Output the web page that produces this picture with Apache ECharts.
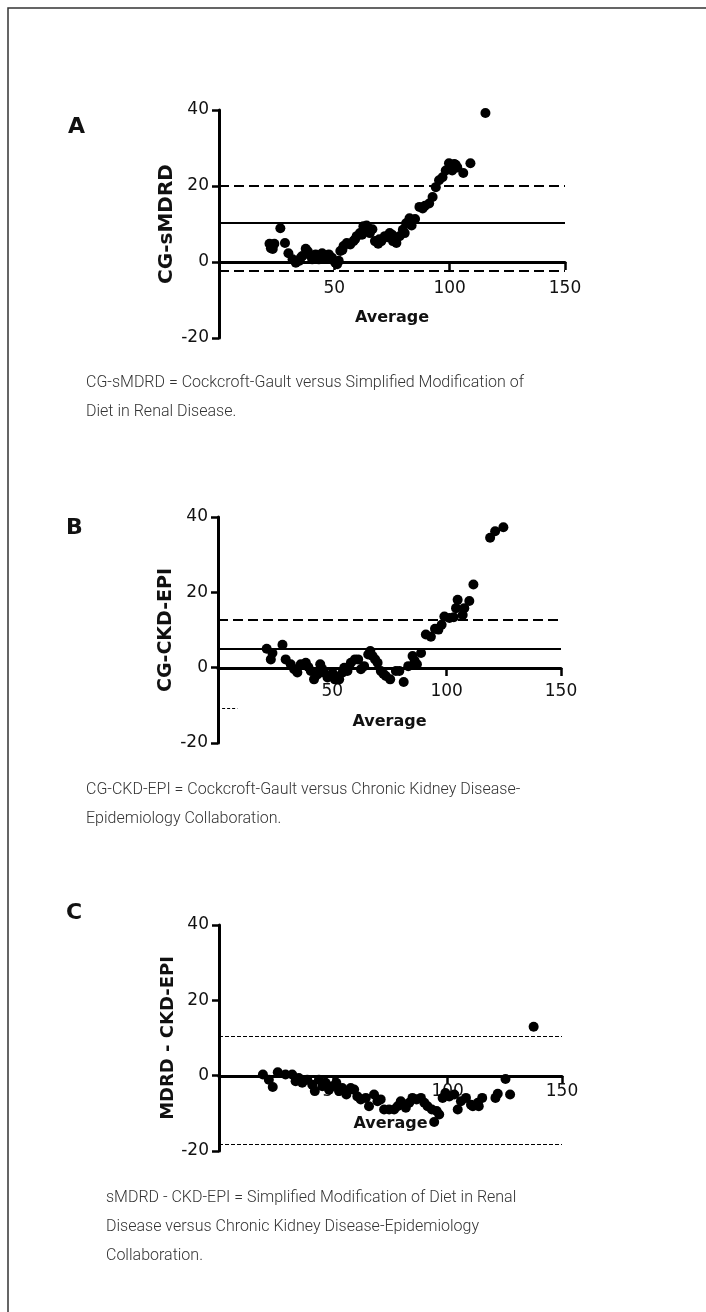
<!DOCTYPE html>
<html>
<head>
<meta charset="utf-8">
<script src="https://cdn.jsdelivr.net/npm/echarts@6/dist/echarts.min.js"></script>
<style>
  html, body { margin: 0; padding: 0; background: #fff; }
  #main { width: 706px; height: 1312px; }
</style>
</head>
<body>
<div id="main"></div>
<script>
// Bland-Altman style plots: average on x, difference on y
var pointsA = [
  [21.9, 4.8], [22.5, 3.6], [23.3, 3.4], [24, 4.8], [26.6, 8.9], [28.6, 5], [30.1, 2.3],
  [31.9, 0.7], [33.3, -0.2], [34.7, 0.3], [35.5, 1.2], [36.1, 1.6], [37.6, 3.5], [38.5, 2.8],
  [39, 2], [40.4, 0.7], [41.2, 1.4], [41.9, 2], [43.3, 0.7], [44, 1.5], [44.7, 2.3],
  [46.1, 1.1], [47, 1.8], [47.6, 2], [49, 1.1], [50.4, -0.2], [51.2, -0.6], [51.9, 0.3],
  [52.6, 2.9], [53.5, 3.2], [54, 4.2], [55.4, 5], [56.9, 4.6], [58.3, 5.5], [59, 6],
  [59.7, 6.8], [61.1, 7.6], [62, 7.2], [62.6, 9.4], [64, 9.6], [64.8, 8.9], [65.4, 7.6],
  [66.5, 8.6], [67.6, 5.5], [69, 4.8], [69.5, 6], [70.4, 5.5], [71.9, 6.8], [73, 6.5],
  [74, 7.6], [75, 7.2], [75.4, 5.5], [76.9, 5], [78.3, 6.8], [79.7, 8.5], [80.5, 7.6],
  [81.1, 10.2], [82.6, 11.5], [83.5, 9.6], [85, 11.3], [86.9, 14.5], [88.3, 14.1],
  [89.3, 14.8], [91.1, 15.4], [92.6, 17.1], [94, 19.7], [95.4, 21.5], [96.9, 22.3],
  [98.3, 24.1], [99.7, 26], [101.1, 24.1], [102, 25.8], [102.6, 25.6], [103.3, 24.9],
  [105.9, 23.4], [109, 26], [115.5, 39.2]
];
var limitsA = [20, 10.2, -2.3]; // upper, mean, lower

var pointsB = [
  [21.3, 5], [23.1, 2.2], [23.8, 3.9], [28.2, 6.1], [29.6, 2.2], [31.8, 0.9], [33.3, -0.4],
  [34.7, -1.3], [36.2, 0.9], [38.4, 1.3], [39.5, 0.2], [40.6, -0.9], [42, -3.1], [43.5, -1.8],
  [44.7, 0.9], [45.5, -0.3], [46.4, -1.3], [47.9, -2.6], [49.3, -2.2], [50.2, -1.5],
  [51.1, -3.1], [52, -2.4], [53, -3.1], [54.5, -1.3], [55.2, 0], [56.6, -0.9], [58.1, 1.3],
  [59.9, 2.2], [61.3, 2.2], [62.5, -0.4], [63.9, 0.4], [65.7, 3.5], [66.6, 4.4], [67.6, 3.1],
  [68.7, 2.2], [69.8, 1.3], [71.2, -0.9], [72.3, -1.6], [73.4, -2.2], [75.3, -3.1],
  [77.8, -0.9], [79.3, -0.9], [81.2, -3.8], [83.2, 0.4], [85.1, 3.1], [86, 1.8], [87, 0.9],
  [88.8, 3.9], [90.9, 8.8], [93.1, 8.2], [94.9, 10.3], [96.4, 10.1], [97.8, 11.4], [99, 13.6],
  [101.2, 13.2], [103.1, 13.4], [104.1, 15.8], [104.8, 18], [107, 14], [107.7, 15.8],
  [109.9, 17.7], [111.7, 22.1], [119, 34.5], [121.2, 36.2], [124.8, 37.3]
];
var limitsB = [12.7, 5.1];
var lowerB = -10.9; // only a short piece of the lower limit is visible

var pointsC = [
  [19.2, 0.3], [21.8, -1.1], [23.5, -3], [25.7, 0.9], [29.1, 0.3], [32, 0.3], [33.5, -1.5],
  [34.9, -0.6], [36.4, -1.9], [38.6, -1.1], [40.8, -2.4], [41.9, -4.1], [43.7, -1.1],
  [45.2, -2.8], [46.6, -1.9], [48.1, -3.7], [49.6, -2.8], [51.3, -1.9], [52.5, -4.1],
  [53.9, -3.3], [55.7, -5], [57.6, -3.3], [59.1, -3.7], [60.5, -5.5], [62, -6.3],
  [64.2, -5.9], [65.6, -8.1], [67.8, -5], [69.3, -6.8], [70.7, -6.3], [72.2, -9],
  [74.4, -9], [76.6, -9], [78.1, -8.1], [79.5, -6.8], [81.7, -8.5], [83.2, -7.2],
  [84.6, -5.9], [86.4, -6.3], [88.3, -5.9], [89.8, -7.2], [91.2, -8.1], [93.1, -9],
  [94.1, -12.3], [95.2, -9.4], [96.3, -10.3], [97.8, -5.9], [99, -4.6], [100.7, -5.5],
  [102.9, -5], [104.4, -9], [105.8, -6.8], [108, -5.9], [110.2, -7.7], [111, -8.1],
  [113.2, -7.2], [113.6, -8.1], [115.1, -5.9], [120.9, -5.9], [121.9, -4.8], [125.3, -0.9],
  [127.3, -5], [137.6, 13]
];
var limitsC = [10.4, -18.3];

var yTitles = ['CG-sMDRD', 'CG-CKD-EPI', 'MDRD - CKD-EPI'];
var captions = [
  'CG-sMDRD = Cockcroft-Gault versus Simplified Modification of\nDiet in Renal Disease.',
  'CG-CKD-EPI = Cockcroft-Gault versus Chronic Kidney Disease-\nEpidemiology Collaboration.',
  'sMDRD - CKD-EPI = Simplified Modification of Diet in Renal\nDisease versus Chronic Kidney Disease-Epidemiology\nCollaboration.'
];

var chart = echarts.init(document.getElementById('main'));

var grids = [
  { left: 219, top: 110, width: 346, height: 228 },
  { left: 218, top: 517, width: 343, height: 226 },
  { left: 219, top: 925, width: 343, height: 226 }
];
var xLabelMargin = [18, 15, 7];
var xNameGap = [48, 46, 40];
var yNameSize = [20, 19, 18];

function hline(y, dashed, thin) {
  return [
    { coord: [0, y], lineStyle: { type: dashed ? (thin ? [4, 2] : [10, 5]) : 'solid', width: thin ? 1.2 : 2.2, color: '#000' } },
    { coord: [150, y] }
  ];
}

var xAxes = [], yAxes = [], series = [];
for (var i = 0; i < 3; i++) {
  xAxes.push({
    gridIndex: i, type: 'value', min: 0, max: 150, interval: 50,
    position: 'bottom',
    // lift the x axis to y = 0 (one third of the -20..40 range)
    offset: -Math.round(grids[i].height / 3),
    name: 'Average', nameLocation: 'middle', nameGap: xNameGap[i],
    nameTextStyle: { fontFamily: 'DejaVu Sans', fontWeight: 'bold', fontSize: 16, color: '#111' },
    axisLine: { onZero: false, lineStyle: { color: '#000', width: 3 } },
    axisTick: { length: 8, lineStyle: { color: '#000', width: 2.5 } },
    axisLabel: { margin: xLabelMargin[i], fontFamily: 'DejaVu Sans', fontSize: 17, color: '#111',
      formatter: function (v) { return v === 0 ? '' : v; } },
    splitLine: { show: false }
  });
  yAxes.push({
    gridIndex: i, type: 'value', min: -20, max: 40, interval: 20,
    name: yTitles[i], nameLocation: 'middle', nameGap: 42, nameRotate: 90,
    nameTextStyle: { fontFamily: 'DejaVu Sans', fontWeight: 'bold', fontSize: yNameSize[i], color: '#111' },
    axisLine: { show: true, onZero: false, lineStyle: { color: '#000', width: 3 } },
    axisTick: { show: true, length: 7, lineStyle: { color: '#000', width: 2.5 } },
    axisLabel: { margin: 10, fontFamily: 'DejaVu Sans', fontSize: 17, color: '#111' },
    splitLine: { show: false }
  });
}

var dot = { color: '#000', opacity: 1 };
series.push({
  type: 'scatter', xAxisIndex: 0, yAxisIndex: 0, data: pointsA,
  symbolSize: 10, itemStyle: dot, z: 5,
  markLine: { silent: true, symbol: 'none', label: { show: false },
    data: [hline(limitsA[0], true), hline(limitsA[1], false), hline(limitsA[2], true)] }
});
series.push({
  type: 'scatter', xAxisIndex: 1, yAxisIndex: 1, data: pointsB,
  symbolSize: 10, itemStyle: dot, z: 5,
  markLine: { silent: true, symbol: 'none', label: { show: false },
    data: [
      hline(limitsB[0], true), hline(limitsB[1], false),
      [{ coord: [1.8, lowerB], lineStyle: { type: [3, 2], width: 1.2, color: '#000' } }, { coord: [8.5, lowerB] }]
    ] }
});
series.push({
  type: 'scatter', xAxisIndex: 2, yAxisIndex: 2, data: pointsC,
  symbolSize: 10, itemStyle: dot, z: 5,
  markLine: { silent: true, symbol: 'none', label: { show: false },
    data: [hline(limitsC[0], true, true), hline(limitsC[1], true, true)] }
});

var captionStyle = { fontFamily: 'Roboto', fontWeight: 300, fontSize: 16, lineHeight: 29, fill: '#333' };
var graphics = [
  { type: 'rect', shape: { x: 8, y: 8, width: 720, height: 1330 }, style: { fill: 'none', stroke: '#333', lineWidth: 1.5 } },
  { type: 'text', x: 68, y: 116, style: { text: 'A', fontFamily: 'DejaVu Sans', fontWeight: 'bold', fontSize: 22, fill: '#111' } },
  { type: 'text', x: 66, y: 517, style: { text: 'B', fontFamily: 'DejaVu Sans', fontWeight: 'bold', fontSize: 22, fill: '#111' } },
  { type: 'text', x: 66, y: 902, style: { text: 'C', fontFamily: 'DejaVu Sans', fontWeight: 'bold', fontSize: 22, fill: '#111' } },
  { type: 'text', x: 86, y: 368, style: Object.assign({ text: captions[0] }, captionStyle) },
  { type: 'text', x: 86, y: 775, style: Object.assign({ text: captions[1] }, captionStyle) },
  { type: 'text', x: 106, y: 1183, style: Object.assign({ text: captions[2] }, captionStyle) }
];

var option = {
  backgroundColor: '#fff',
  animation: false,
  grid: grids,
  xAxis: xAxes,
  yAxis: yAxes,
  series: series,
  graphic: graphics
};

option && chart.setOption(option);
</script>
</body>
</html>
